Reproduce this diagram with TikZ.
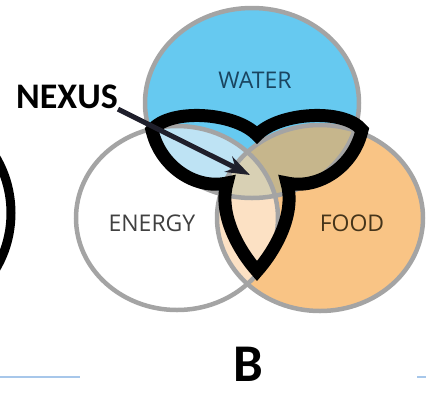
\documentclass[tikz,border=0pt]{standalone}
\usepackage{fontspec}
\setmainfont{Open Sans}
\newfontfamily\headsans{Carlito}
\usetikzlibrary{arrows.meta}

\definecolor{waterblue}{HTML}{66C9F0}
\definecolor{foodorange}{HTML}{F9C485}
\definecolor{ringgray}{HTML}{A4A4A4}
\definecolor{wemix}{HTML}{BEE3F4}
\definecolor{wfmix}{HTML}{C6B68C}
\definecolor{efmix}{HTML}{FCE1C4}
\definecolor{allmix}{HTML}{D8D0B4}
\definecolor{waterink}{HTML}{1A4560}
\definecolor{energyink}{HTML}{404040}
\definecolor{foodink}{HTML}{45341A}
\definecolor{arrowink}{HTML}{1F1F2B}
\definecolor{ruleblue}{HTML}{A7C7EA}

\begin{document}
\begin{tikzpicture}[x=1pt,y=-1pt,
    ring/.style={draw=ringgray,line width=4.5pt},
    lbl/.style={font=\fontsize{23}{23}\selectfont,inner sep=0pt},
    headlbl/.style={font=\headsans\bfseries,inner sep=0pt},
    nexusarrow/.style={draw=arrowink,line width=5pt,-{Stealth[length=24pt,width=17pt]}}]
  \useasboundingbox (0,0) rectangle (426,392);
  \def\water{(252,103) ellipse[x radius=107,y radius=95]}
  \def\energy{(177,218) ellipse[x radius=101,y radius=92]}
  \def\food{(320,218) ellipse[x radius=103,y radius=93]}
  % plain sets first, then every overlap gets its own tint
  \fill[white] \energy;
  \fill[foodorange] \food;
  \fill[waterblue] \water;
  \begin{scope}\clip \water; \fill[wemix] \energy; \end{scope}
  \begin{scope}\clip \water; \fill[wfmix] \food; \end{scope}
  \begin{scope}\clip \energy; \fill[efmix] \food; \end{scope}
  \begin{scope}\clip \water; \clip \energy; \fill[allmix] \food; \end{scope}
  \draw[ring] \energy;
  \draw[ring] \food;
  \draw[ring] \water;

  \node[lbl,text=waterink] (water) at (255,80) {WATER};
  \node[lbl,text=energyink] (energy) at (152,223) {ENERGY};
  \node[lbl,text=foodink] (food) at (352,223) {FOOD};

  \draw[line width=13pt] (257,135) .. controls (235,112) and (170,108) .. (152,130)
    .. controls (160,166) and (195,190) .. (227,183)
    .. controls (218,215) and (240,252) .. (257,271)
    .. controls (274,252) and (296,215) .. (287,183)
    .. controls (319,190) and (354,166) .. (362,130)
    .. controls (344,108) and (279,112) .. cycle;

  \coordinate (core) at (250,175);
  \node[headlbl,font=\headsans\bfseries\fontsize{36}{36}\selectfont] (nexus) at (67,97) {NEXUS};
  \draw[nexusarrow] (nexus.south east) -- (core);

  \begin{scope}
    \clip (0,0) rectangle (426,392);
    \draw[line width=9pt] (-99,213) circle[radius=110];
  \end{scope}

  \node[headlbl,font=\headsans\bfseries\fontsize{53}{53}\selectfont] (panel) at (248,364) {B};
  \draw[ruleblue,line width=1.5pt] (0,377) -- (80,377);
  \draw[ruleblue,line width=1.5pt] (417,377) -- (426,377);
\end{tikzpicture}
\end{document}
